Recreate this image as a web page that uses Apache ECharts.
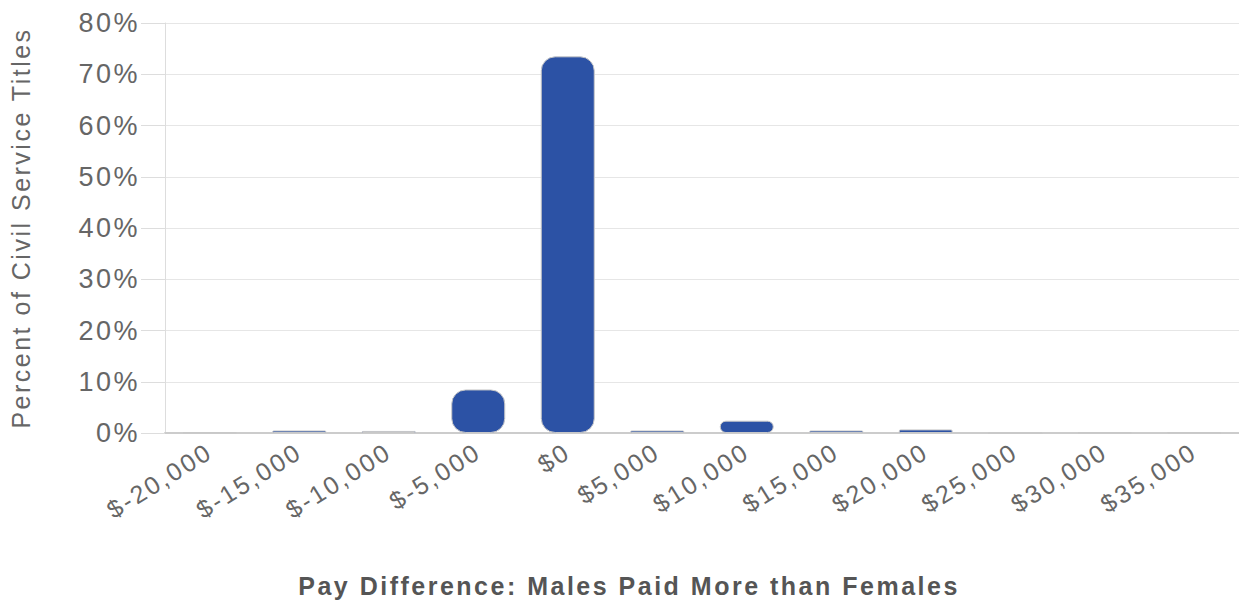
<!DOCTYPE html>
<html><head><meta charset="utf-8">
<script src="https://cdn.jsdelivr.net/npm/echarts@6/dist/echarts.min.js"></script>
<style>html,body{margin:0;padding:0;background:#fff;overflow:hidden}#c{width:1239px;height:603px;overflow:hidden}#c svg{display:block}#c svg text{letter-spacing:2.5px}</style>
</head><body><div id="c"></div>
<script>
const categories = ['$-20,000','$-15,000','$-10,000','$-5,000','$0','$5,000','$10,000','$15,000','$20,000','$25,000','$30,000','$35,000'];
const percentValues = [0.1, 0.5, 0.4, 8.5, 73.5, 0.5, 2.4, 0.5, 0.7, 0, 0.1, 0.1];
const yTicks = [0, 10, 20, 30, 40, 50, 60, 70, 80];

const chart = echarts.init(document.getElementById('c'), null, {renderer:'svg'});
chart.setOption({
  animation: false,
  backgroundColor: '#fff',
  textStyle: {fontFamily: 'Liberation Sans, Arial, sans-serif'},
  grid: {left: 157, right: 0, top: 23, bottom: 166, containLabel: false},
  xAxis: {
    type: 'category',
    data: categories,
    boundaryGap: true,
    name: 'Pay Difference: Males Paid More than Females',
    nameLocation: 'middle',
    nameGap: 140,
    nameTextStyle: {fontSize: 25, fontWeight: 'bold', color: '#555', padding:[0,0,0,-146]},
    axisLine: {show: true, lineStyle: {color: '#ccc', width: 2}},
    axisTick: {show: false},
    axisLabel: {rotate: 32, fontSize: 25, color: '#666', margin: 16, interval: 0}
  },
  yAxis: {
    type: 'value',
    min: yTicks[0], max: yTicks[yTicks.length-1], interval: 10,
    name: 'Percent of Civil Service Titles',
    nameLocation: 'middle',
    nameGap: 132,
    nameTextStyle: {fontSize: 25, color: '#666'},
    axisLine: {show: true, lineStyle: {color: '#ddd'}},
    axisTick: {show: true, inside: false, length: 24, lineStyle: {color: '#ddd'}},
    axisLabel: {formatter: '{value}%', fontSize: 27, color: '#666', margin: 25},
    splitLine: {lineStyle: {color: '#e6e6e6'}}
  },
  series: [{
    type: 'bar',
    data: percentValues,
    barWidth: 54,
    itemStyle: {color: '#2c52a5', borderColor: '#c8c8c8', borderWidth: 1, borderRadius: 14}
  }]
});
</script></body></html>
